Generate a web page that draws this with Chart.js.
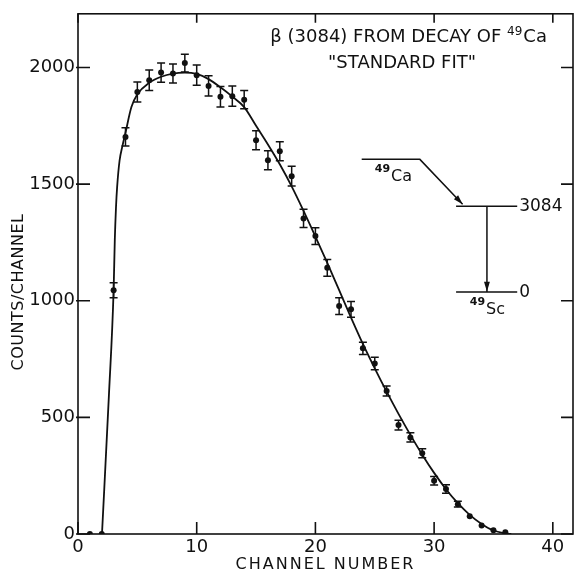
<!DOCTYPE html>
<html>
<head>
<meta charset="utf-8">
<script src="https://cdn.jsdelivr.net/npm/chart.js@4.4.1/dist/chart.umd.min.js"></script>
<style>
  html, body { margin: 0; padding: 0; background: #fff; }
</style>
</head>
<body>
<canvas id="chart" width="577" height="573"></canvas>
<script>
// ---------- DATA ----------
const channels = [1, 2, 3, 4, 5, 6, 7, 8, 9, 10, 11, 12, 13, 14, 15, 16, 17, 18,
                  19, 20, 21, 22, 23, 24, 25, 26, 27, 28, 29, 30, 31, 32, 33, 34, 35, 36];
const counts   = [0, 0, 1045, 1702, 1895, 1945, 1978, 1974, 2019, 1967, 1921, 1874, 1877, 1862, 1688, 1602, 1641, 1534,
                  1353, 1277, 1141, 977, 963, 796, 731, 613, 467, 414, 346, 228, 193, 128, 76, 36, 16, 8];
const errors   = [0, 0, 32, 39, 43, 44, 41, 41, 38, 43, 43, 44, 43, 39, 41, 41, 41, 42,
                  39, 36, 36, 36, 34, 26, 27, 21, 21, 20, 19, 18, 18, 12, 0, 0, 0, 0];

// "standard fit" curve
const fitChannels = [2.02, 2.6, 3, 3.1, 3.2, 3.3, 3.5, 3.75, 4, 4.5, 5, 6, 7, 8, 9, 10, 11, 12, 13, 14, 15, 16, 17, 18,
                     19, 20, 21, 22, 23, 24, 25, 26, 27, 28, 29, 30, 31, 32, 33, 34, 35, 36, 36.5];
const fitCounts   = [0, 590, 1045, 1260, 1400, 1490, 1600, 1665, 1720, 1830, 1885, 1934, 1960, 1974, 1978, 1972, 1950, 1915, 1875, 1830, 1750, 1670, 1585, 1490,
                     1385, 1275, 1162, 1045, 928, 815, 710, 610, 515, 425, 340, 262, 192, 132, 82, 43, 15, 3, 0];

const xTicks = [0, 10, 20, 30, 40];
const yTicks = [0, 500, 1000, 1500, 2000];

const INK = '#111';
const FONT = '"DejaVu Sans", sans-serif';

// ---------- error bars, frame, inward ticks, labels, decay scheme ----------
const extras = {
    id: 'extras',
    afterDraw(chart) {
        const { ctx, chartArea: a, scales: { x, y } } = chart;
        const P = (cx, cy) => [x.getPixelForValue(cx), y.getPixelForValue(cy)];
        ctx.save();
        ctx.strokeStyle = INK;
        ctx.fillStyle = INK;
        ctx.lineWidth = 1.5;

        // error bars
        ctx.beginPath();
        channels.forEach((c, i) => {
            if (!errors[i]) return;
            const px = x.getPixelForValue(c);
            const t = y.getPixelForValue(counts[i] + errors[i]);
            const b = y.getPixelForValue(counts[i] - errors[i]);
            ctx.moveTo(px, t); ctx.lineTo(px, b);
            ctx.moveTo(px - 4, t); ctx.lineTo(px + 4, t);
            ctx.moveTo(px - 4, b); ctx.lineTo(px + 4, b);
        });
        ctx.stroke();

        // frame
        ctx.lineWidth = 1.6;
        ctx.strokeRect(a.left, a.top, a.right - a.left, a.bottom - a.top);

        // inward ticks on all four sides
        ctx.beginPath();
        xTicks.forEach(v => {
            const px = x.getPixelForValue(v);
            ctx.moveTo(px, a.bottom); ctx.lineTo(px, a.bottom - 12);
            ctx.moveTo(px, a.top); ctx.lineTo(px, a.top + 9);
        });
        yTicks.forEach(v => {
            const py = y.getPixelForValue(v);
            ctx.moveTo(a.left - 2, py); ctx.lineTo(a.left + 12, py);
            ctx.moveTo(a.right, py); ctx.lineTo(a.right - 12, py);
        });
        ctx.stroke();

        // axis titles
        ctx.textBaseline = 'middle';
        ctx.textAlign = 'center';
        ctx.font = '16px ' + FONT;
        ctx.letterSpacing = '2px';
        ctx.fillText('CHANNEL NUMBER', (a.left + a.right) / 2, 565);
        ctx.save();
        ctx.translate(19, 292);
        ctx.rotate(-Math.PI / 2);
        ctx.letterSpacing = '0.5px';
        ctx.fillText('COUNTS/CHANNEL', 0, 0);
        ctx.restore();
        ctx.letterSpacing = '0px';

        // title
        ctx.font = '18px ' + FONT;
        ctx.textAlign = 'left';
        let [tx, ty] = P(16.2, 2128);
        const head = '\u03B2 (3084) FROM DECAY OF ';
        ctx.fillText(head, tx, ty);
        tx += ctx.measureText(head).width;
        ctx.font = '12px ' + FONT;
        ctx.fillText('49', tx, ty - 6);
        tx += ctx.measureText('49').width + 1;
        ctx.font = '18px ' + FONT;
        ctx.fillText('Ca', tx, ty);
        ctx.textAlign = 'center';
        const [t2x, t2y] = P(27.3, 2017);
        ctx.fillText('"STANDARD FIT"', t2x, t2y);

        // decay scheme
        ctx.lineWidth = 1.5;
        const arrow = (x0, y0, x1, y1) => {
            const ang = Math.atan2(y1 - y0, x1 - x0);
            ctx.beginPath();
            ctx.moveTo(x1, y1);
            ctx.lineTo(x1 - 10 * Math.cos(ang - 0.3), y1 - 10 * Math.sin(ang - 0.3));
            ctx.lineTo(x1 - 10 * Math.cos(ang + 0.3), y1 - 10 * Math.sin(ang + 0.3));
            ctx.closePath();
            ctx.fill();
        };
        const ca0 = P(23.9, 1606), ca1 = P(28.8, 1606), hit = P(32.4, 1414);
        ctx.beginPath();
        ctx.moveTo(...ca0); ctx.lineTo(...ca1); ctx.lineTo(...hit);
        ctx.stroke();
        arrow(...ca1, ...hit);

        const l0 = P(31.85, 1405), l1 = P(37.0, 1405);
        const g0 = P(31.85, 1037), g1 = P(37.0, 1037);
        const v0 = P(34.45, 1405), v1 = P(34.45, 1040);
        ctx.beginPath();
        ctx.moveTo(...l0); ctx.lineTo(...l1);
        ctx.moveTo(...g0); ctx.lineTo(...g1);
        ctx.moveTo(...v0); ctx.lineTo(...v1);
        ctx.stroke();
        arrow(...v0, ...v1);

        ctx.textAlign = 'left';
        ctx.font = '17px ' + FONT;
        ctx.fillText('3084', l1[0] + 2, l1[1]);
        ctx.fillText('0', g1[0] + 2, g1[1]);

        // isotope labels
        const iso = (mass, sym, cx, cy) => {
            let [px, py] = P(cx, cy);
            ctx.font = 'bold 11px ' + FONT;
            ctx.fillText(mass, px, py);
            px += ctx.measureText(mass).width + 1;
            ctx.font = '16px ' + FONT;
            ctx.fillText(sym, px, py + 8);
        };
        iso('49', 'Ca', 25.0, 1566);
        iso('49', 'Sc', 33.0, 995);

        ctx.restore();
    }
};

new Chart(document.getElementById('chart'), {
    type: 'scatter',
    data: {
        datasets: [
            {
                label: 'data',
                data: channels.map((c, i) => ({ x: c, y: counts[i] })),
                pointRadius: 3,
                pointBackgroundColor: INK,
                pointBorderWidth: 0,
                showLine: false
            },
            {
                label: 'standard fit',
                type: 'line',
                data: fitChannels.map((c, i) => ({ x: c, y: fitCounts[i] })),
                borderColor: INK,
                borderWidth: 1.8,
                pointRadius: 0,
                cubicInterpolationMode: 'monotone',
                fill: false
            }
        ]
    },
    options: {
        responsive: false,
        animation: false,
        devicePixelRatio: 1,
        layout: { padding: { top: 13, right: 2, left: 0, bottom: 0 } },
        plugins: { legend: { display: false }, tooltip: { enabled: false } },
        scales: {
            x: {
                type: 'linear',
                min: 0,
                max: 41.7,
                afterBuildTicks: s => { s.ticks = xTicks.map(v => ({ value: v })); },
                afterFit: s => { s.height = 39; },
                grid: { display: false, drawTicks: false },
                border: { display: false },
                ticks: { color: INK, font: { family: FONT, size: 18 }, padding: 3, maxRotation: 0,
                         callback: v => String(v) }
            },
            y: {
                min: 0,
                max: 2230,
                afterBuildTicks: s => { s.ticks = yTicks.map(v => ({ value: v })); },
                afterFit: s => { s.width = 78; },
                grid: { display: false, drawTicks: false },
                border: { display: false },
                ticks: { color: INK, font: { family: FONT, size: 18 }, padding: 3,
                         callback: v => String(v) }
            }
        }
    },
    plugins: [extras]
});
</script>
</body>
</html>
